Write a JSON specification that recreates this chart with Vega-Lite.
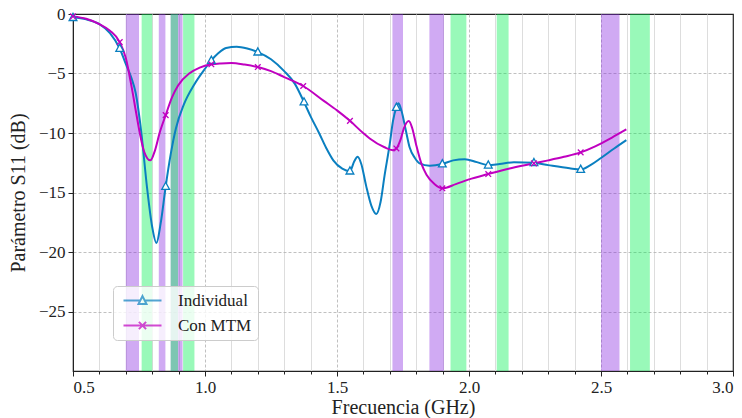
{
  "$schema": "https://vega.github.io/schema/vega-lite/v6.json",
  "width": 660,
  "height": 357,
  "autosize": {"type": "none"},
  "padding": {"left": 73, "top": 14, "right": 9, "bottom": 47},
  "background": "white",
  "config": {
    "font": "Liberation Serif",
    "view": {"stroke": "#222", "strokeWidth": 1.2},
    "axis": {
      "labelFont": "Liberation Serif",
      "titleFont": "Liberation Serif",
      "labelFontSize": 17,
      "titleFontSize": 20,
      "titleFontWeight": "normal",
      "labelColor": "#222",
      "titleColor": "#222",
      "domainColor": "#222",
      "tickColor": "#222"
    },
    "legend": {
      "labelFont": "Liberation Serif",
      "labelFontSize": 17,
      "labelColor": "#222"
    }
  },
  "datasets": {
    "purple": [
      {"a": 0.70, "b": 0.75}, {"a": 0.825, "b": 0.85}, {"a": 0.87, "b": 0.915},
      {"a": 1.71, "b": 1.75}, {"a": 1.85, "b": 1.905}, {"a": 2.50, "b": 2.57}
    ],
    "green": [
      {"a": 0.76, "b": 0.80}, {"a": 0.87, "b": 0.898}, {"a": 0.917, "b": 0.96},
      {"a": 1.93, "b": 1.99}, {"a": 2.105, "b": 2.15}, {"a": 2.61, "b": 2.685}
    ],
    "curves": [
      {"series": "Individual", "f": 0.50, "s": -0.3},
      {"series": "Individual", "f": 0.55, "s": -0.45},
      {"series": "Individual", "f": 0.60, "s": -0.85},
      {"series": "Individual", "f": 0.64, "s": -1.6},
      {"series": "Individual", "f": 0.677, "s": -2.9},
      {"series": "Individual", "f": 0.70, "s": -4.2},
      {"series": "Individual", "f": 0.72, "s": -5.3},
      {"series": "Individual", "f": 0.737, "s": -6.6},
      {"series": "Individual", "f": 0.759, "s": -10.0},
      {"series": "Individual", "f": 0.78, "s": -14.5},
      {"series": "Individual", "f": 0.80, "s": -17.9},
      {"series": "Individual", "f": 0.816, "s": -19.25},
      {"series": "Individual", "f": 0.832, "s": -17.6},
      {"series": "Individual", "f": 0.851, "s": -14.5},
      {"series": "Individual", "f": 0.87, "s": -11.8},
      {"series": "Individual", "f": 0.89, "s": -9.6},
      {"series": "Individual", "f": 0.92, "s": -7.6},
      {"series": "Individual", "f": 0.96, "s": -5.9},
      {"series": "Individual", "f": 1.00, "s": -4.6},
      {"series": "Individual", "f": 1.024, "s": -3.9},
      {"series": "Individual", "f": 1.05, "s": -3.3},
      {"series": "Individual", "f": 1.08, "s": -2.85},
      {"series": "Individual", "f": 1.12, "s": -2.75},
      {"series": "Individual", "f": 1.16, "s": -2.9},
      {"series": "Individual", "f": 1.20, "s": -3.2},
      {"series": "Individual", "f": 1.25, "s": -3.8},
      {"series": "Individual", "f": 1.30, "s": -4.8},
      {"series": "Individual", "f": 1.34, "s": -5.85},
      {"series": "Individual", "f": 1.375, "s": -7.4},
      {"series": "Individual", "f": 1.40, "s": -8.6},
      {"series": "Individual", "f": 1.432, "s": -10.0},
      {"series": "Individual", "f": 1.46, "s": -11.3},
      {"series": "Individual", "f": 1.486, "s": -12.3},
      {"series": "Individual", "f": 1.52, "s": -13.0},
      {"series": "Individual", "f": 1.549, "s": -13.2},
      {"series": "Individual", "f": 1.565, "s": -12.4},
      {"series": "Individual", "f": 1.578, "s": -12.0},
      {"series": "Individual", "f": 1.592, "s": -12.6},
      {"series": "Individual", "f": 1.61, "s": -14.4},
      {"series": "Individual", "f": 1.63, "s": -16.1},
      {"series": "Individual", "f": 1.649, "s": -16.8},
      {"series": "Individual", "f": 1.665, "s": -15.8},
      {"series": "Individual", "f": 1.68, "s": -13.6},
      {"series": "Individual", "f": 1.70, "s": -10.9},
      {"series": "Individual", "f": 1.712, "s": -9.0},
      {"series": "Individual", "f": 1.725, "s": -7.85},
      {"series": "Individual", "f": 1.733, "s": -7.5},
      {"series": "Individual", "f": 1.745, "s": -8.2},
      {"series": "Individual", "f": 1.76, "s": -9.7},
      {"series": "Individual", "f": 1.775, "s": -11.2},
      {"series": "Individual", "f": 1.795, "s": -12.1},
      {"series": "Individual", "f": 1.813, "s": -12.55},
      {"series": "Individual", "f": 1.851, "s": -12.75},
      {"series": "Individual", "f": 1.899, "s": -12.6},
      {"series": "Individual", "f": 1.94, "s": -12.3},
      {"series": "Individual", "f": 1.984, "s": -12.2},
      {"series": "Individual", "f": 2.03, "s": -12.45},
      {"series": "Individual", "f": 2.073, "s": -12.7},
      {"series": "Individual", "f": 2.116, "s": -12.6},
      {"series": "Individual", "f": 2.17, "s": -12.45},
      {"series": "Individual", "f": 2.246, "s": -12.5},
      {"series": "Individual", "f": 2.30, "s": -12.7},
      {"series": "Individual", "f": 2.381, "s": -12.97},
      {"series": "Individual", "f": 2.423, "s": -13.06},
      {"series": "Individual", "f": 2.46, "s": -12.7},
      {"series": "Individual", "f": 2.50, "s": -12.1},
      {"series": "Individual", "f": 2.55, "s": -11.3},
      {"series": "Individual", "f": 2.596, "s": -10.6},
      {"series": "Con MTM", "f": 0.50, "s": -0.2},
      {"series": "Con MTM", "f": 0.55, "s": -0.4},
      {"series": "Con MTM", "f": 0.60, "s": -0.85},
      {"series": "Con MTM", "f": 0.64, "s": -1.4},
      {"series": "Con MTM", "f": 0.677, "s": -2.36},
      {"series": "Con MTM", "f": 0.70, "s": -3.7},
      {"series": "Con MTM", "f": 0.721, "s": -6.0},
      {"series": "Con MTM", "f": 0.74, "s": -8.4},
      {"series": "Con MTM", "f": 0.753, "s": -10.0},
      {"series": "Con MTM", "f": 0.77, "s": -11.6},
      {"series": "Con MTM", "f": 0.793, "s": -12.3},
      {"series": "Con MTM", "f": 0.81, "s": -11.5},
      {"series": "Con MTM", "f": 0.828, "s": -10.0},
      {"series": "Con MTM", "f": 0.851, "s": -8.5},
      {"series": "Con MTM", "f": 0.875, "s": -7.0},
      {"series": "Con MTM", "f": 0.898, "s": -6.0},
      {"series": "Con MTM", "f": 0.94, "s": -5.0},
      {"series": "Con MTM", "f": 0.98, "s": -4.5},
      {"series": "Con MTM", "f": 1.024, "s": -4.23},
      {"series": "Con MTM", "f": 1.06, "s": -4.15},
      {"series": "Con MTM", "f": 1.10, "s": -4.12},
      {"series": "Con MTM", "f": 1.15, "s": -4.25},
      {"series": "Con MTM", "f": 1.20, "s": -4.46},
      {"series": "Con MTM", "f": 1.25, "s": -4.8},
      {"series": "Con MTM", "f": 1.30, "s": -5.3},
      {"series": "Con MTM", "f": 1.372, "s": -6.05},
      {"series": "Con MTM", "f": 1.45, "s": -7.3},
      {"series": "Con MTM", "f": 1.50, "s": -8.1},
      {"series": "Con MTM", "f": 1.549, "s": -8.98},
      {"series": "Con MTM", "f": 1.599, "s": -10.0},
      {"series": "Con MTM", "f": 1.624, "s": -10.46},
      {"series": "Con MTM", "f": 1.68, "s": -11.2},
      {"series": "Con MTM", "f": 1.712, "s": -11.44},
      {"series": "Con MTM", "f": 1.725, "s": -11.3},
      {"series": "Con MTM", "f": 1.74, "s": -10.6},
      {"series": "Con MTM", "f": 1.755, "s": -9.5},
      {"series": "Con MTM", "f": 1.772, "s": -9.0},
      {"series": "Con MTM", "f": 1.785, "s": -9.6},
      {"series": "Con MTM", "f": 1.80, "s": -11.0},
      {"series": "Con MTM", "f": 1.82, "s": -12.6},
      {"series": "Con MTM", "f": 1.839, "s": -13.5},
      {"series": "Con MTM", "f": 1.87, "s": -14.3},
      {"series": "Con MTM", "f": 1.899, "s": -14.65},
      {"series": "Con MTM", "f": 1.95, "s": -14.3},
      {"series": "Con MTM", "f": 2.00, "s": -13.9},
      {"series": "Con MTM", "f": 2.073, "s": -13.45},
      {"series": "Con MTM", "f": 2.15, "s": -13.0},
      {"series": "Con MTM", "f": 2.246, "s": -12.55},
      {"series": "Con MTM", "f": 2.30, "s": -12.3},
      {"series": "Con MTM", "f": 2.36, "s": -12.0},
      {"series": "Con MTM", "f": 2.423, "s": -11.63},
      {"series": "Con MTM", "f": 2.48, "s": -11.1},
      {"series": "Con MTM", "f": 2.54, "s": -10.4},
      {"series": "Con MTM", "f": 2.596, "s": -9.7}
    ],
    "markers": [
      {"series": "Individual", "f": 0.50, "s": -0.3},
      {"series": "Individual", "f": 0.677, "s": -2.9},
      {"series": "Individual", "f": 0.851, "s": -14.5},
      {"series": "Individual", "f": 1.024, "s": -3.9},
      {"series": "Individual", "f": 1.20, "s": -3.2},
      {"series": "Individual", "f": 1.375, "s": -7.4},
      {"series": "Individual", "f": 1.549, "s": -13.2},
      {"series": "Individual", "f": 1.725, "s": -7.85},
      {"series": "Individual", "f": 1.899, "s": -12.6},
      {"series": "Individual", "f": 2.073, "s": -12.7},
      {"series": "Individual", "f": 2.246, "s": -12.5},
      {"series": "Individual", "f": 2.423, "s": -13.06},
      {"series": "Con MTM", "f": 0.50, "s": -0.2},
      {"series": "Con MTM", "f": 0.677, "s": -2.36},
      {"series": "Con MTM", "f": 0.851, "s": -8.5},
      {"series": "Con MTM", "f": 1.024, "s": -4.23},
      {"series": "Con MTM", "f": 1.20, "s": -4.46},
      {"series": "Con MTM", "f": 1.372, "s": -6.05},
      {"series": "Con MTM", "f": 1.549, "s": -8.98},
      {"series": "Con MTM", "f": 1.725, "s": -11.3},
      {"series": "Con MTM", "f": 1.899, "s": -14.65},
      {"series": "Con MTM", "f": 2.073, "s": -13.45},
      {"series": "Con MTM", "f": 2.246, "s": -12.55},
      {"series": "Con MTM", "f": 2.423, "s": -11.63}
    ]
  },
  "resolve": {"axis": {"x": "independent"}},
  "layer": [
    {
      "data": {"name": "purple"},
      "mark": {"type": "rect", "color": "#8a2be2", "opacity": 0.4},
      "encoding": {
        "x": {
          "field": "a", "type": "quantitative",
          "scale": {"domain": [0.5, 3.0], "nice": false, "zero": false},
          "axis": {
            "orient": "bottom",
            "values": [0.6, 0.7, 0.8, 0.9, 1.1, 1.2, 1.3, 1.4, 1.6, 1.7, 1.8, 1.9, 2.1, 2.2, 2.3, 2.4, 2.6, 2.7, 2.8, 2.9],
            "labels": false, "domain": false, "tickSize": 3, "title": null,
            "grid": true, "gridColor": "#dddddd", "gridWidth": 1
          }
        },
        "x2": {"field": "b"}
      }
    },
    {
      "data": {"name": "green"},
      "mark": {"type": "rect", "color": "#00f050", "opacity": 0.4},
      "encoding": {
        "x": {
          "field": "a", "type": "quantitative",
          "axis": {
            "orient": "bottom",
            "values": [0.5, 1.0, 1.5, 2.0, 2.5, 3.0], "format": ".1f",
            "tickSize": 5, "labelPadding": 3, "title": "Frecuencia (GHz)", "titlePadding": 2,
            "grid": true, "gridDash": [3, 2], "gridWidth": 0.8,
            "gridOpacity": {"condition": {"test": "datum.value <= 0.5 || datum.value >= 3", "value": 0}, "value": 1},
            "gridColor": "#b0b0b0"
          }
        },
        "x2": {"field": "b"},
        "y": {
          "datum": 0, "type": "quantitative",
          "scale": {"domain": [-30, 0], "nice": false, "zero": false},
          "axis": {
            "values": [0, -5, -10, -15, -20, -25],
            "labelExpr": "replace(datum.label, '-', '\u2212')",
            "tickSize": 5, "labelPadding": 3, "title": "Parámetro S11 (dB)", "titlePadding": 10,
            "grid": true, "gridDash": [3, 2], "gridWidth": 0.8,
            "gridOpacity": {"condition": {"test": "datum.value >= 0", "value": 0}, "value": 1},
            "gridColor": "#b0b0b0"
          }
        },
        "y2": {"datum": -30}
      }
    },
    {
      "mark": {"type": "rule", "color": "black", "strokeDash": [6, 4], "strokeWidth": 1.8},
      "encoding": {"y": {"datum": -6, "type": "quantitative"}}
    },
    {
      "mark": {"type": "rule", "color": "black", "strokeDash": [6, 4], "strokeWidth": 1.8},
      "encoding": {"y": {"datum": -10, "type": "quantitative"}}
    },
    {
      "data": {"name": "curves"},
      "transform": [{"filter": "datum.series == 'Individual'"}],
      "mark": {"type": "line", "color": "#0a7fc0", "strokeWidth": 2, "interpolate": "monotone"},
      "encoding": {
        "x": {"field": "f", "type": "quantitative", "axis": null},
        "y": {"field": "s", "type": "quantitative"}
      }
    },
    {
      "data": {"name": "curves"},
      "transform": [{"filter": "datum.series == 'Con MTM'"}],
      "mark": {"type": "line", "color": "#c000c0", "strokeWidth": 2, "interpolate": "monotone"},
      "encoding": {
        "x": {"field": "f", "type": "quantitative", "axis": null},
        "y": {"field": "s", "type": "quantitative"}
      }
    },
    {
      "data": {"name": "markers"},
      "transform": [{"filter": "datum.series == 'Individual'"}],
      "mark": {"type": "point", "shape": "M0,-1.1L1,0.75H-1Z", "size": 60, "filled": false, "fill": "white", "stroke": "#0a7fc0", "strokeWidth": 1.3, "opacity": 1},
      "encoding": {
        "x": {"field": "f", "type": "quantitative", "axis": null},
        "y": {"field": "s", "type": "quantitative"}
      }
    },
    {
      "data": {"name": "markers"},
      "transform": [{"filter": "datum.series == 'Con MTM'"}],
      "mark": {"type": "point", "shape": "M-0.8,-0.8L0.8,0.8M-0.8,0.8L0.8,-0.8", "size": 50, "filled": false, "stroke": "#c000c0", "strokeWidth": 1.3, "opacity": 1},
      "encoding": {
        "x": {"field": "f", "type": "quantitative", "axis": null},
        "y": {"field": "s", "type": "quantitative"}
      }
    },
    {
      "data": {"name": "markers"},
      "transform": [{"filter": "datum.f > 99"}],
      "mark": {"type": "point", "size": 64, "filled": false, "strokeWidth": 2},
      "encoding": {
        "x": {"field": "f", "type": "quantitative", "axis": null},
        "y": {"field": "s", "type": "quantitative"},
        "color": {
          "field": "series", "type": "nominal",
          "scale": {"domain": ["Individual", "Con MTM"], "range": ["#0a7fc0", "#c000c0"]},
          "legend": {
            "title": null, "orient": "none", "legendX": 40, "legendY": 272,
            "symbolSize": 64, "symbolStrokeWidth": 2, "labelOffset": 42, "rowPadding": 7,
            "padding": 6, "fillColor": "rgba(255,255,255,0.8)", "strokeColor": "#cccccc", "cornerRadius": 4
          }
        },
        "shape": {
          "field": "series", "type": "nominal",
          "scale": {"domain": ["Individual", "Con MTM"], "range": ["M-1,0H3.25M4.25,0H8.5M3.75,-1.1L4.75,0.9H2.75Z", "M-1,0H8.5M2.85,-0.9L4.65,0.9M2.85,0.9L4.65,-0.9"]}
        }
      }
    }
  ]
}
